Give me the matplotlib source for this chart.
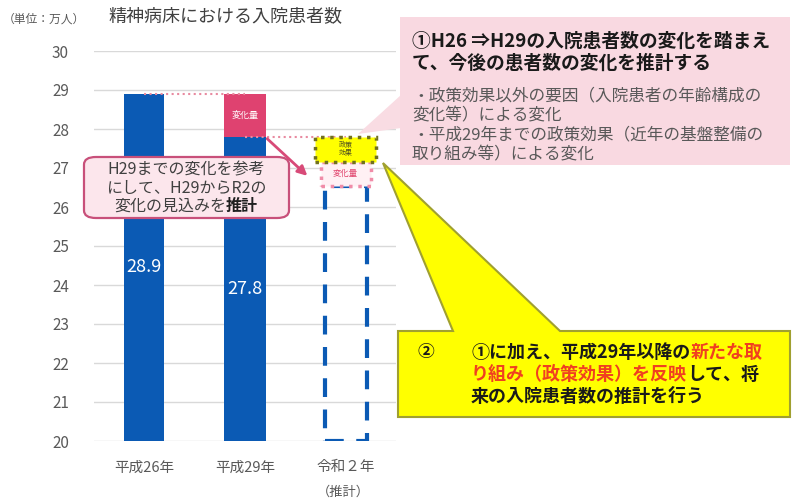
import matplotlib
matplotlib.use('Agg')
import matplotlib.pyplot as plt
from matplotlib.patches import FancyBboxPatch, Polygon, Rectangle

plt.rcParams['font.family'] = ['Noto Sans CJK JP', 'DejaVu Sans']

# data
categories = ['平成26年', '平成29年', '令和２年']
actual = [28.9, 27.8]            # H26, H29 (万人)
h29_change_top = 28.9            # H29 bar pink block top (change amount)
r2_base = 26.55                  # R2 estimate dashed bar top
r2_change_top = 27.15            # top of 変化量 box
r2_policy_top = 27.8             # top of 政策効果 box
yticks = list(range(20, 31))

BLUE = '#0B5AB4'
PINK = '#DF4270'
W, H = 796, 501

def fx(x):
    return x / W

def fy(y):
    return 1 - y / H

fig = plt.figure(figsize=(7.96, 5.01), dpi=100)
ax = fig.add_axes([fx(94), fy(441), fx(396) - fx(94), fy(51) - fy(441)])
ax.set_xlim(-0.5, 2.5)
ax.set_ylim(20, 30)
ax.set_yticks(yticks)
ax.grid(axis='y', color='#D9D9D9', lw=1)
ax.set_axisbelow(True)
for s in ax.spines.values():
    s.set_visible(False)
ax.tick_params(axis='y', length=0, labelsize=11, labelcolor='#595959', pad=18)
ax.tick_params(axis='x', length=0, labelsize=10.5, labelcolor='#595959', pad=14)
ax.set_xticks(range(3))
ax.set_xticklabels(categories)

# bars
ax.bar(0, actual[0] - 20, bottom=20, width=0.4, color=BLUE)
ax.bar(1, actual[1] - 20, bottom=20, width=0.42, color=BLUE)
ax.bar(1, h29_change_top - actual[1], bottom=actual[1], width=0.42, color=PINK)
ax.text(1, (actual[1] + h29_change_top) / 2, '変化量', color='white', fontsize=6.5,
        ha='center', va='center')
for i, v in enumerate(actual):
    ax.text(i, (20 + v) / 2, f'{v}', color='white', fontsize=13, ha='center', va='center')

# estimate bar (dashed)
ax.bar(2, r2_base - 20, bottom=20, width=0.42, fill=False, edgecolor=BLUE,
       lw=3, ls=(0, (4.5, 3)))
ax.add_patch(Rectangle((1.75, r2_base), 0.5, r2_change_top - r2_base, facecolor='#FFF0F4',
                       edgecolor='#F08CA8', lw=2.5, ls=':', zorder=3))
ax.text(2, (r2_base + r2_change_top) / 2, '変化量', color='#E0406A', fontsize=6,
        ha='center', va='center', zorder=4)
ax.add_patch(Rectangle((1.7, r2_change_top), 0.6, r2_policy_top - r2_change_top,
                       facecolor='#FFFF00', edgecolor='#707020', lw=2.5, ls=':', zorder=3))
ax.text(2, (r2_change_top + r2_policy_top) / 2, '政策\n効果', color='#505020', fontsize=5,
        ha='center', va='center', linespacing=1.0, zorder=4)

# reference dotted lines
ax.hlines(actual[0], 0, 1, colors='#E88AA0', linestyles=':', lw=1.5)
ax.hlines(actual[1], 1, 2, colors='#E88AA0', linestyles=':', lw=1.5)

ax.annotate('', xy=(1.64, 26.75), xytext=(1.2, actual[1]),
            arrowprops=dict(arrowstyle='-|>', color='#D84A78', lw=2, mutation_scale=14))

fig.text(fx(343), fy(492), '（推計）', fontsize=9.5, color='#595959', ha='center', va='center')

# title / unit
fig.text(fx(3), fy(19), '（単位：万人）', fontsize=8.5, color='#595959', va='center')
fig.text(fx(108), fy(16), '精神病床における入院患者数', fontsize=13, color='#404040', va='center')

# callout box in chart
fig.patches.append(FancyBboxPatch((fx(84), fy(218)), fx(289) - fx(84), fy(157) - fy(218),
                                  boxstyle='round,pad=0,rounding_size=0.015',
                                  facecolor='#FCE6EC', edgecolor='#C8507A', lw=1.6,
                                  transform=fig.transFigure, figure=fig))

renderer = fig.canvas.get_renderer()

def runs(x, y, parts, size, ha='left'):
    texts = []
    total = 0
    for s, color, weight in parts:
        t = fig.text(0, y, s, fontsize=size, color=color, fontweight=weight, va='center')
        total += t.get_window_extent(renderer).width
        texts.append(t)
    xpix = x * fig.bbox.width
    if ha == 'center':
        xpix -= total / 2
    for t in texts:
        t.set_x(xpix / fig.bbox.width)
        xpix += t.get_window_extent(renderer).width

runs(fx(186), fy(170), [('H29までの変化を参考', '#404040', 'normal')], 11.5, ha='center')
runs(fx(186), fy(188), [('にして、H29からR2の', '#404040', 'normal')], 11.5, ha='center')
runs(fx(186), fy(206), [('変化の見込みを', '#404040', 'normal'), ('推計', '#202020', 'bold')],
     11.5, ha='center')

# top right pink box with wedge
fig.patches.append(Polygon([(fx(401), fy(95)), (fx(401), fy(128)), (fx(358), fy(134))],
                           closed=True, facecolor='#F9DCE3', edgecolor='none',
                           transform=fig.transFigure, figure=fig))
fig.patches.append(Rectangle((fx(400), fy(165)), fx(790) - fx(400), fy(17) - fy(165),
                             facecolor='#F9D9E1', edgecolor='none',
                             transform=fig.transFigure, figure=fig))
runs(fx(412), fy(41), [('①H26 ⇒H29の入院患者数の変化を踏まえ', '#1A1A1A', 'bold')], 13.5)
runs(fx(412), fy(63), [('て、今後の患者数の変化を推計する', '#1A1A1A', 'bold')], 13.5)
gray_lines = ['・政策効果以外の要因（入院患者の年齢構成の', '変化等）による変化',
              '・平成29年までの政策効果（近年の基盤整備の', '取り組み等）による変化']
for i, s in enumerate(gray_lines):
    runs(fx(412), fy(96 + 19.5 * i), [(s, '#595959', 'normal')], 12)

# yellow callout
fig.patches.append(Polygon([(fx(398), fy(331)), (fx(453), fy(331)), (fx(383), fy(163)),
                            (fx(560), fy(331)), (fx(790), fy(331)), (fx(790), fy(417)),
                            (fx(398), fy(417))], closed=True, facecolor='#FFFF00',
                           edgecolor='#A0A030', lw=1.5, transform=fig.transFigure, figure=fig))
RED = '#F04020'
BLK = '#1A1A1A'
runs(fx(418), fy(352), [('②', BLK, 'bold')], 12)
runs(fx(471), fy(352), [('①に加え、平成29年以降の', BLK, 'bold'), ('新たな取', RED, 'bold')], 13)
runs(fx(471), fy(374), [('り組み（政策効果）を反映', RED, 'bold'), ('して、将', BLK, 'bold')], 13)
runs(fx(471), fy(396), [('来の入院患者数の推計を行う', BLK, 'bold')], 13)

fig.savefig('out.png', dpi=100)
